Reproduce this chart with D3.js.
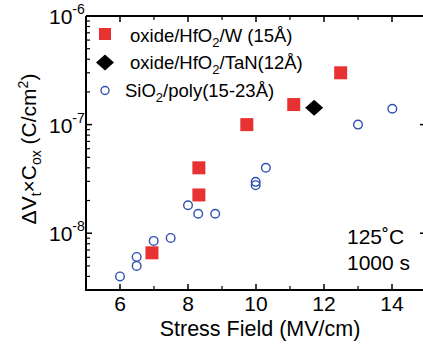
<!DOCTYPE html>
<html>
<head>
<meta charset="utf-8">
<script src="https://cdn.jsdelivr.net/npm/d3@7"></script>
<style>
  body { margin: 0; background: #fff; }
  svg { display: block; font-family: "Liberation Sans", Arial, sans-serif; }
</style>
</head>
<body>
<div id="chart"></div>
<script>
// stress field (MV/cm) and charge (C/cm^2) for each stack
var hfW_field = [6.94, 8.32, 8.32, 9.73, 11.11, 12.49];
var hfW_charge = [6.6e-9, 4.0e-8, 2.25e-8, 1.0e-7, 1.53e-7, 3.0e-7];

var hfTaN_field = [11.71];
var hfTaN_charge = [1.43e-7];

var sio2_field = [6.0, 6.49, 6.49, 6.99, 7.49, 8.0, 8.3, 8.8, 9.99, 9.99, 10.29, 13.0, 14.01];
var sio2_charge = [4.0e-9, 5.0e-9, 6.05e-9, 8.5e-9, 9.05e-9, 1.81e-8, 1.51e-8, 1.51e-8, 2.97e-8, 2.77e-8, 4.0e-8, 1.0e-7, 1.4e-7];

var xMajor = [6, 8, 10, 12, 14];
var xMinor = [7, 9, 11, 13];
var yDecades = [-8, -7, -6];

var width = 423, height = 344;
var pLeft = 86, pRight = 426, pTop = 16, pBottom = 290;

var svg = d3.select('#chart')
    .append('svg')
    .attr('width', width)
    .attr('height', height);

var x = d3.scaleLinear().domain([5, 15]).range([pLeft, pRight]);
var y = d3.scaleLog().domain([3e-9, 1e-6]).range([pBottom, pTop]);

// minor ticks for log axis
var yMinor = [];
[-9, -8, -7].forEach(function(e) {
    for (var m = 2; m <= 9; m++) {
        var v = m * Math.pow(10, e);
        if (v >= 3e-9 && v < 1e-6) yMinor.push(v);
    }
});

var axes = svg.append('g').attr('stroke', '#000');

// frame
axes.append('path')
    .attr('fill', 'none')
    .attr('stroke-width', 2)
    .attr('d', 'M' + pLeft + ',' + pTop + 'H' + pRight + 'M' + pLeft + ',' + pTop + 'V' + pBottom + 'H' + pRight);

// x ticks (inward, top and bottom)
xMajor.forEach(function(d) {
    axes.append('line').attr('x1', x(d)).attr('x2', x(d)).attr('y1', pBottom).attr('y2', pBottom - 6).attr('stroke-width', 1.5);
    axes.append('line').attr('x1', x(d)).attr('x2', x(d)).attr('y1', pTop).attr('y2', pTop + 6).attr('stroke-width', 1.5);
});
xMinor.forEach(function(d) {
    axes.append('line').attr('x1', x(d)).attr('x2', x(d)).attr('y1', pBottom).attr('y2', pBottom - 4).attr('stroke-width', 1.2);
    axes.append('line').attr('x1', x(d)).attr('x2', x(d)).attr('y1', pTop).attr('y2', pTop + 4).attr('stroke-width', 1.2);
});

// y ticks (inward, left and right)
yDecades.forEach(function(e) {
    var v = Math.pow(10, e);
    axes.append('line').attr('x1', pLeft).attr('x2', pLeft + 6).attr('y1', y(v)).attr('y2', y(v)).attr('stroke-width', 1.5);
    axes.append('line').attr('x1', 420).attr('x2', 426).attr('y1', y(v)).attr('y2', y(v)).attr('stroke-width', 1.5);
});
yMinor.forEach(function(v) {
    axes.append('line').attr('x1', pLeft).attr('x2', pLeft + 4).attr('y1', y(v)).attr('y2', y(v)).attr('stroke-width', 1.2);
});

// tick labels
svg.selectAll('.xlab')
    .data(xMajor)
    .enter()
    .append('text')
    .attr('x', function(d) { return x(d); })
    .attr('y', 311)
    .attr('text-anchor', 'middle')
    .attr('font-size', 21)
    .text(function(d) { return d; });

yDecades.forEach(function(e) {
    var t = svg.append('text')
        .attr('x', 49)
        .attr('y', y(Math.pow(10, e)) + 8)
        .attr('font-size', 21);
    t.append('tspan').text('10');
    t.append('tspan').attr('dy', -10).attr('font-size', 14).text(e);
});

// axis titles
svg.append('text')
    .attr('x', 260)
    .attr('y', 336)
    .attr('text-anchor', 'middle')
    .attr('font-size', 21.5)
    .text('Stress Field (MV/cm)');

var yt = svg.append('text')
    .attr('transform', 'translate(36,149) rotate(-90)')
    .attr('text-anchor', 'middle')
    .attr('font-size', 21);
yt.append('tspan').text('\u0394V');
yt.append('tspan').attr('dy', 5).attr('font-size', 14).text('t');
yt.append('tspan').attr('dy', -5).text('\u00d7C');
yt.append('tspan').attr('dy', 5).attr('font-size', 14).text('ox');
yt.append('tspan').attr('dy', -5).text(' (C/cm');
yt.append('tspan').attr('dy', -8).attr('font-size', 14).text('2');
yt.append('tspan').attr('dy', 8).text(')');

// conditions
svg.append('text').attr('x', 347).attr('y', 244).attr('font-size', 21).text('125\u02daC');
svg.append('text').attr('x', 347).attr('y', 270).attr('font-size', 21).text('1000 s');

var red = '#e83232', blue = '#3050b0';

// data marks
svg.selectAll('.sio2')
    .data(sio2_field)
    .enter()
    .append('circle')
    .attr('cx', function(d) { return x(d); })
    .attr('cy', function(d, i) { return y(sio2_charge[i]); })
    .attr('r', 4.3)
    .attr('fill', 'none')
    .attr('stroke', blue)
    .attr('stroke-width', 1.4);

svg.selectAll('.hfw')
    .data(hfW_field)
    .enter()
    .append('rect')
    .attr('x', function(d) { return x(d) - 6.5; })
    .attr('y', function(d, i) { return y(hfW_charge[i]) - 6.5; })
    .attr('width', 13)
    .attr('height', 13)
    .attr('fill', red);

var diamond = function(cx, cy) {
    return 'M' + cx + ',' + (cy - 8) + 'L' + (cx + 9) + ',' + cy + 'L' + cx + ',' + (cy + 8) + 'L' + (cx - 9) + ',' + cy + 'Z';
};
svg.selectAll('.hftan')
    .data(hfTaN_field)
    .enter()
    .append('path')
    .attr('d', function(d, i) { return diamond(x(d), y(hfTaN_charge[i])); })
    .attr('fill', '#000');

// legend
svg.append('rect').attr('x', 99).attr('y', 28).attr('width', 12).attr('height', 12).attr('fill', red);
svg.append('path').attr('d', diamond(105, 62.5)).attr('fill', '#000');
svg.append('circle').attr('cx', 105).attr('cy', 90.5).attr('r', 4).attr('fill', 'none').attr('stroke', blue).attr('stroke-width', 1.4);

function legendText(xp, yp, parts) {
    var t = svg.append('text').attr('x', xp).attr('y', yp).attr('font-size', 18.5);
    parts.forEach(function(p) {
        if (p.sub) {
            t.append('tspan').attr('dy', 5).attr('font-size', 13).text(p.sub);
            t.append('tspan').attr('dy', -5).text(p.after);
        } else {
            t.append('tspan').text(p.text);
        }
    });
}
legendText(130, 42, [{ text: 'oxide/HfO' }, { sub: '2', after: '/W (15\u00c5)' }]);
legendText(130, 69, [{ text: 'oxide/HfO' }, { sub: '2', after: '/TaN(12\u00c5)' }]);
legendText(125, 97, [{ text: 'SiO' }, { sub: '2', after: '/poly(15-23\u00c5)' }]);
</script>
</body>
</html>
